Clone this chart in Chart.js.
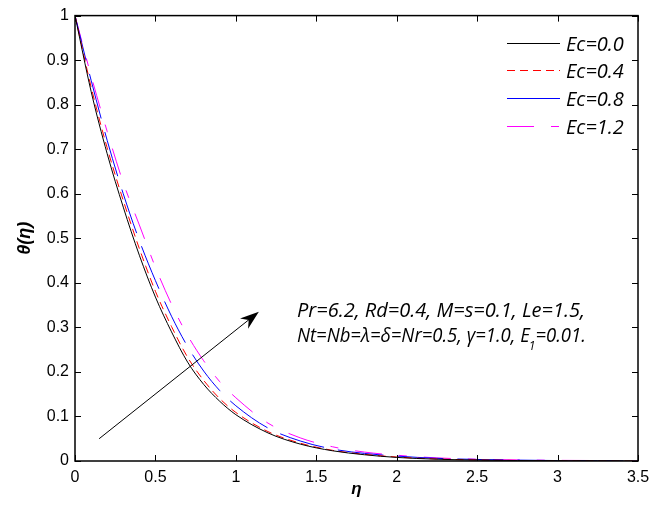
<!DOCTYPE html>
<html>
<head>
<meta charset="utf-8">
<script src="https://cdn.jsdelivr.net/npm/chart.js@4/dist/chart.umd.min.js"></script>
<style>
  body { margin: 0; background: #fff; }
  canvas { display: block; }
</style>
</head>
<body>
<canvas id="myChart" width="665" height="506"></canvas>
<script>
// eta values (x)
var eta = [0, 0.1, 0.2, 0.3, 0.4, 0.5, 0.6, 0.7, 0.8, 0.9, 1.0, 1.2, 1.4, 1.6, 1.8, 2.0, 2.25, 2.5, 2.75, 3.0, 3.25, 3.5];

// theta(eta) for each Ec
var ec00 = [1, 0.83, 0.69, 0.57, 0.462, 0.368, 0.29, 0.222, 0.172, 0.134, 0.104, 0.063, 0.038, 0.023, 0.014, 0.008, 0.004, 0.002, 0.001, 0.0005, 0.0002, 0];
var ec04 = [1, 0.84, 0.703, 0.585, 0.477, 0.381, 0.302, 0.233, 0.181, 0.14, 0.109, 0.066, 0.04, 0.024, 0.015, 0.009, 0.0045, 0.0025, 0.0012, 0.0006, 0.0003, 0];
var ec08 = [1, 0.855, 0.72, 0.6, 0.495, 0.405, 0.325, 0.257, 0.202, 0.158, 0.124, 0.074, 0.045, 0.027, 0.017, 0.011, 0.006, 0.0035, 0.002, 0.001, 0.0005, 0];
var ec12 = [1, 0.865, 0.74, 0.625, 0.53, 0.435, 0.352, 0.282, 0.225, 0.178, 0.142, 0.085, 0.052, 0.032, 0.02, 0.013, 0.007, 0.004, 0.0025, 0.0015, 0.001, 0];

var labels = ["Ec=0.0", "Ec=0.4", "Ec=0.8", "Ec=1.2"];
var colors = ["#000000", "#ff0000", "#0000ff", "#ff00ff"];
var dashes = [[], [8, 5], [46, 14], [27, 17, 8, 17]];
var legendDashes = [[], [8, 5], [], [27, 17, 8, 17]];

// annotation (data coordinates)
var arrowFrom = [0.15, 0.05];
var arrowTo = [1.143, 0.335];
var noteLine1 = "Pr=6.2, Rd=0.4, M=s=0.1, Le=1.5,";
var noteLine2a = "Nt=Nb=\u03bb=\u03b4=Nr=0.5, \u03b3=1.0, E";
var noteSub = "1";
var noteLine2b = "=0.01.";
var notePos = [1.38, 0.336, 0.28];

function series(vals) {
  return eta.map(function(e, i) { return {x: e, y: vals[i]}; });
}

var allSeries = [ec00, ec04, ec08, ec12];
var datasets = allSeries.map(function(s, i) {
  return {
    label: labels[i],
    data: series(s),
    borderColor: colors[i],
    borderWidth: 1,
    borderDash: dashes[i],
    pointRadius: 0,
    fill: false,
    cubicInterpolationMode: 'monotone'
  };
});

var italicFont = "italic 20px 'Open Sans'";
var subFont = "italic 13px 'Open Sans'";

function fmt(v) { return String(+(+v).toFixed(2)); }

var extras = {
  id: 'extras',
  afterDraw: function(chart) {
    var ctx = chart.ctx;
    var a = chart.chartArea;
    var xs = chart.scales.x, ys = chart.scales.y;
    ctx.save();
    // frame
    ctx.strokeStyle = '#000';
    ctx.lineWidth = 1.5;
    ctx.strokeRect(a.left, a.top, a.right - a.left, a.bottom - a.top);
    // inward ticks
    ctx.lineWidth = 1;
    ctx.beginPath();
    xs.ticks.forEach(function(t) {
      var px = Math.round(xs.getPixelForValue(t.value)) + 0.5;
      ctx.moveTo(px, a.bottom); ctx.lineTo(px, a.bottom - 6);
      ctx.moveTo(px, a.top); ctx.lineTo(px, a.top + 6);
    });
    ys.ticks.forEach(function(t) {
      var py = Math.round(ys.getPixelForValue(t.value)) + 0.5;
      ctx.moveTo(a.left, py); ctx.lineTo(a.left + 6, py);
      ctx.moveTo(a.right, py); ctx.lineTo(a.right - 6, py);
    });
    ctx.stroke();

    // legend
    ctx.font = italicFont;
    ctx.textBaseline = 'middle';
    ctx.textAlign = 'left';
    var rowY = [43, 70, 98, 126];
    chart.data.datasets.forEach(function(ds, i) {
      ctx.strokeStyle = ds.borderColor;
      ctx.lineWidth = 1;
      ctx.setLineDash(legendDashes[i]);
      ctx.beginPath();
      ctx.moveTo(507, rowY[i] + 0.5);
      ctx.lineTo(560, rowY[i] + 0.5);
      ctx.stroke();
      ctx.setLineDash([]);
      ctx.fillStyle = '#000';
      ctx.fillText(ds.label, 566, rowY[i] + 2);
    });

    // arrow
    var x0 = xs.getPixelForValue(arrowFrom[0]), y0 = ys.getPixelForValue(arrowFrom[1]);
    var x1 = xs.getPixelForValue(arrowTo[0]), y1 = ys.getPixelForValue(arrowTo[1]);
    var ang = Math.atan2(y1 - y0, x1 - x0);
    ctx.strokeStyle = '#000';
    ctx.lineWidth = 1;
    ctx.beginPath();
    ctx.moveTo(x0, y0);
    ctx.lineTo(x1 - 8 * Math.cos(ang), y1 - 8 * Math.sin(ang));
    ctx.stroke();
    ctx.fillStyle = '#000';
    ctx.beginPath();
    ctx.moveTo(x1, y1);
    ctx.lineTo(x1 - 20 * Math.cos(ang - 0.33), y1 - 20 * Math.sin(ang - 0.33));
    ctx.lineTo(x1 - 13 * Math.cos(ang), y1 - 13 * Math.sin(ang));
    ctx.lineTo(x1 - 20 * Math.cos(ang + 0.33), y1 - 20 * Math.sin(ang + 0.33));
    ctx.closePath();
    ctx.fill();

    // parameter text
    ctx.font = italicFont;
    ctx.fillStyle = '#000';
    var tx = xs.getPixelForValue(notePos[0]);
    ctx.fillText(noteLine1, tx, ys.getPixelForValue(notePos[1]));
    var w1 = ctx.measureText(noteLine1).width;
    // second line: squeeze to the same width as the first
    var y2 = ys.getPixelForValue(notePos[2]);
    var wa = ctx.measureText(noteLine2a).width;
    var wb = ctx.measureText(noteLine2b).width;
    ctx.font = subFont;
    var ws = ctx.measureText(noteSub).width;
    var total = wa + ws + wb - 2;
    var k = Math.min(1, w1 / total);
    ctx.translate(tx, y2);
    ctx.scale(k, 1);
    ctx.font = italicFont;
    ctx.fillText(noteLine2a, 0, 0);
    ctx.font = subFont;
    ctx.fillText(noteSub, wa - 1, 10);
    ctx.font = italicFont;
    ctx.fillText(noteLine2b, wa + ws - 1, 0);
    ctx.restore();
  }
};

var ctx = document.getElementById('myChart').getContext('2d');
var chart = new Chart(ctx, {
  type: 'line',
  data: { datasets: datasets },
  options: {
    responsive: false,
    animation: false,
    layout: { padding: { left: 0, right: 27, top: 15, bottom: 0 } },
    plugins: { legend: { display: false }, tooltip: { enabled: false } },
    scales: {
      x: {
        type: 'linear',
        min: 0, max: 3.5,
        grid: { display: false, drawTicks: false },
        border: { display: false },
        ticks: { stepSize: 0.5, color: '#000', padding: 7, maxRotation: 0, callback: fmt,
                 font: { family: 'Liberation Sans', size: 16 } },
        title: { display: true, text: '\u03b7', color: '#000', padding: { top: 0, bottom: 6 },
                 font: { family: 'Liberation Sans', size: 17, style: 'italic', weight: 'bold' } },
        afterFit: function(s) { s.height = 45; }
      },
      y: {
        min: 0, max: 1,
        grid: { display: false, drawTicks: false },
        border: { display: false },
        ticks: { stepSize: 0.1, color: '#000', padding: 6, callback: fmt,
                 font: { family: 'Liberation Sans', size: 16 } },
        title: { display: true, text: '\u03b8(\u03b7)', color: '#000', padding: { top: 14, bottom: 0 },
                 font: { family: 'Liberation Sans', size: 18, style: 'italic', weight: 'bold' } },
        afterFit: function(s) { s.width = 75; }
      }
    }
  },
  plugins: [extras]
});
</script>
</body>
</html>
